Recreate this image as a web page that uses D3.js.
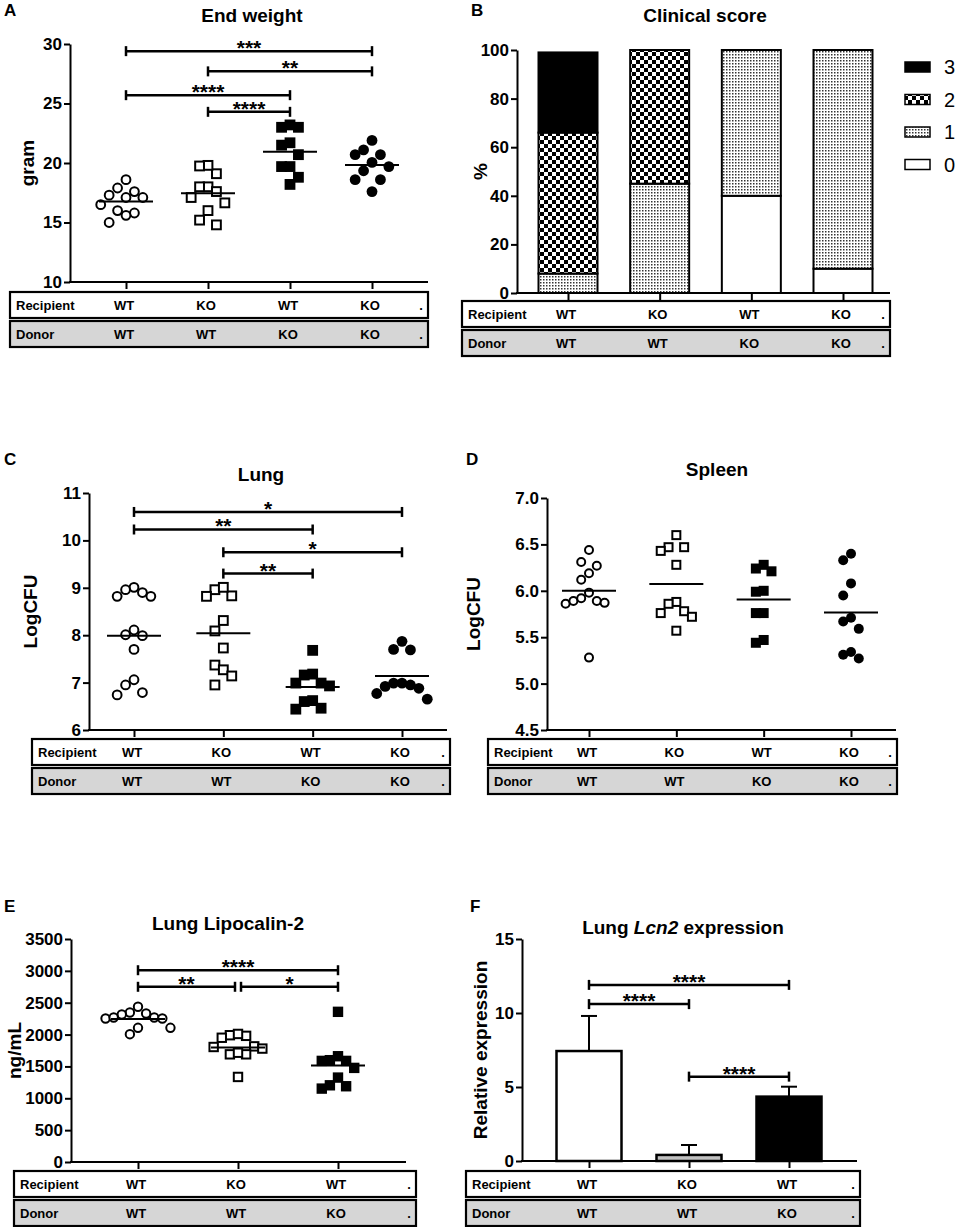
<!DOCTYPE html>
<html>
<head>
<meta charset="utf-8">
<title>Figure</title>
<script src="https://cdn.jsdelivr.net/npm/d3@7"></script>
<style>
  body { margin: 0; background: #fff; }
  svg text { font-family: 'Liberation Sans', Arial, sans-serif; }
</style>
</head>
<body>
<script>
// ---- data ----
const recipient4 = ['WT', 'KO', 'WT', 'KO'];
const donor4 = ['WT', 'WT', 'KO', 'KO'];
const recipient3 = ['WT', 'KO', 'WT'];
const donor3 = ['WT', 'WT', 'KO'];

// A: end weight (gram)
const weightWTWT = [17.9, 17.6, 18.6, 17.1, 17.3, 17.1, 16.5, 15.8, 16.0, 15.6, 15.0];
const weightKOWT = [19.1, 19.8, 19.75, 18.0, 18.0, 17.6, 17.1, 16.65, 16.0, 15.2, 14.8];
const weightWTKO = [23.0, 23.0, 23.2, 21.5, 21.7, 20.7, 19.7, 19.7, 18.8, 18.2];
const weightKOKO = [21.9, 21.1, 20.7, 20.7, 20.05, 19.7, 19.35, 18.6, 18.6, 17.6];
const weightTicks = [10, 15, 20, 25, 30];
const weightSig = [[0, 3, 29.4, '***'], [1, 3, 27.7, '**'], [0, 2, 25.7, '****'], [1, 2, 24.3, '****']];

// B: clinical score (% of mice with score 0,1,2,3)
const scoreLevels = ['0', '1', '2', '3'];
const scoreWTWT = [0, 8, 58, 33];
const scoreKOWT = [0, 45, 55, 0];
const scoreWTKO = [40, 60, 0, 0];
const scoreKOKO = [10, 90, 0, 0];
const scoreTicks = [0, 20, 40, 60, 80, 100];

// C: lung LogCFU
const lungWTWT = [9.01, 8.90, 8.82, 8.82, 8.96, 8.11, 7.99, 8.01, 7.70, 7.06, 6.95, 6.74, 6.79];
const lungKOWT = [8.96, 8.82, 8.83, 9.01, 8.31, 8.09, 7.73, 7.37, 7.27, 7.14, 6.95];
const lungWTKO = [7.68, 7.16, 7.18, 6.99, 6.99, 6.93, 6.60, 6.62, 6.44, 6.46];
const lungKOKO = [7.87, 7.69, 7.70, 6.99, 6.95, 6.99, 6.88, 6.92, 6.77, 6.65];
const lungTicks = [6, 7, 8, 9, 10, 11];
const lungSig = [[0, 3, 10.6, '*'], [0, 2, 10.23, '**'], [1, 3, 9.75, '*'], [1, 2, 9.3, '**']];

// D: spleen LogCFU
const spleenWTWT = [6.44, 6.27, 6.31, 6.19, 6.12, 5.98, 5.89, 5.87, 5.86, 5.89, 5.92, 5.28];
const spleenKOWT = [6.60, 6.47, 6.47, 6.43, 6.28, 5.88, 5.86, 5.78, 5.76, 5.72, 5.57];
const spleenWTKO = [6.24, 6.21, 6.28, 5.99, 6.00, 5.76, 5.76, 5.44, 5.47];
const spleenKOKO = [6.40, 6.33, 6.08, 5.95, 5.67, 5.71, 5.59, 5.34, 5.27, 5.31];
const spleenTicks = [4.5, 5.0, 5.5, 6.0, 6.5, 7.0];

// E: lung lipocalin-2 (ng/mL)
const lcn2WTWT = [2436, 2331, 2347, 2316, 2268, 2253, 2253, 2268, 2106, 2106, 2006];
const lcn2KOWT = [1990, 1950, 1980, 2010, 1815, 1780, 1805, 1690, 1690, 1715, 1335];
const lcn2WTKO = [2357, 1598, 1587, 1587, 1660, 1477, 1325, 1204, 1152, 1189];
const lcn2Ticks = [0, 500, 1000, 1500, 2000, 2500, 3000, 3500];
const lcn2Sig = [[0, 2, 3010, '****'], [0, 1, 2750, '**'], [1, 2, 2750, '*']];

// F: lung Lcn2 relative expression
const exprMean = [7.43, 0.41, 4.35];
const exprSD = [2.37, 0.67, 0.67];
const exprTicks = [0, 5, 10, 15];
const exprSig = [[0, 2, 11.9, '****'], [0, 1, 10.6, '****'], [1, 2, 5.7, '****']];

// ---- drawing ----
const svg = d3.select('body').append('svg')
  .attr('width', 957).attr('height', 1227)
  .style('background-color', '#fff');

const defs = svg.append('defs');
const checker = defs.append('pattern').attr('id', 'checker')
  .attr('patternUnits', 'userSpaceOnUse').attr('width', 8).attr('height', 8);
checker.append('rect').attr('width', 8).attr('height', 8).attr('fill', '#fff');
checker.append('rect').attr('width', 4).attr('height', 4).attr('fill', '#000');
checker.append('rect').attr('x', 4).attr('y', 4).attr('width', 4).attr('height', 4).attr('fill', '#000');
const stipple = defs.append('pattern').attr('id', 'stipple')
  .attr('patternUnits', 'userSpaceOnUse').attr('width', 3).attr('height', 3);
stipple.append('rect').attr('width', 3).attr('height', 3).attr('fill', '#fff');
stipple.append('rect').attr('width', 1.5).attr('height', 1.5).attr('fill', '#333');

const scoreFill = ['#fff', 'url(#stipple)', 'url(#checker)', '#000'];

function panelLetter(t, x, y) {
  svg.append('text').attr('x', x).attr('y', y).text(t)
    .attr('font-size', 17).attr('font-weight', 'bold');
}

function frame(p) {
  const g = svg.append('g');
  const y = d3.scaleLinear().domain([p.ticks[0], p.ticks[p.ticks.length - 1]]).range([p.bottom, p.top]);
  const x = d3.scalePoint().domain(d3.range(p.n)).range(p.xr);

  const ya = g.append('g').attr('transform', `translate(${p.left},0)`)
    .call(d3.axisLeft(y).tickValues(p.ticks).tickFormat(p.fmt || d3.format('d'))
      .tickSize(6).tickSizeOuter(0).tickPadding(2));
  ya.selectAll('path, line').attr('stroke', '#000').attr('stroke-width', 2);
  ya.selectAll('text').attr('font-size', 17).attr('font-weight', 'bold').attr('fill', '#000')
    .style('font-family', "'Liberation Sans', Arial, sans-serif");

  g.append('line').attr('x1', p.left - 1).attr('x2', p.right)
    .attr('y1', p.bottom).attr('y2', p.bottom).attr('stroke', '#000').attr('stroke-width', 2);
  const xa = g.append('g').attr('transform', `translate(0,${p.bottom})`)
    .call(d3.axisBottom(x).tickSize(7).tickSizeOuter(0).tickFormat(''));
  xa.select('.domain').remove();
  xa.selectAll('line').attr('stroke', '#000').attr('stroke-width', 2);

  g.append('text').attr('x', p.titleX).attr('y', p.titleY)
    .attr('text-anchor', 'middle').attr('font-size', 19).attr('font-weight', 'bold')
    .text(p.title);

  g.append('text')
    .attr('transform', `translate(${p.labelX},${(p.top + p.bottom) / 2}) rotate(-90)`)
    .attr('text-anchor', 'middle').attr('dy', '0.35em')
    .attr('font-size', 19).attr('font-weight', 'bold').text(p.label);

  // recipient / donor table
  const bw = p.boxR - p.boxL;
  [[p.recipient, 'Recipient', '#fff', 0], [p.donor, 'Donor', '#d6d6d6', 29]].forEach(([labels, name, fill, off]) => {
    const by = p.boxTop + off;
    g.append('rect').attr('x', p.boxL).attr('y', by).attr('width', bw).attr('height', 26)
      .attr('fill', fill).attr('stroke', '#000').attr('stroke-width', 2.2);
    g.append('text').attr('x', p.boxL + 6).attr('y', by + 13).attr('dy', '0.35em')
      .attr('font-size', 13).attr('font-weight', 'bold').text(name);
    g.selectAll(null).data(labels).enter().append('text')
      .attr('x', (d, i) => x(i) - 2).attr('y', by + 13).attr('dy', '0.35em')
      .attr('text-anchor', 'middle').attr('font-size', 13).attr('font-weight', 'bold')
      .text(d => d);
    g.append('text').attr('x', p.boxR - 7).attr('y', by + 13).attr('dy', '0.35em')
      .attr('text-anchor', 'middle').attr('font-size', 13).attr('font-weight', 'bold').text('.');
  });
  return { g, x, y };
}

function brackets(g, x, y, sig) {
  sig.forEach(([a, b, v, t]) => {
    const shared = e => sig.some(s => s[2] === v && (s[0] === e || s[1] === e) && !(s[0] === a && s[1] === b));
    const x1 = x(a) + (shared(a) ? 3 : 0);
    const x2 = x(b) - (shared(b) ? 3 : 0);
    const yy = y(v);
    g.append('line').attr('x1', x1).attr('x2', x2).attr('y1', yy).attr('y2', yy)
      .attr('stroke', '#000').attr('stroke-width', 2.5);
    [x1, x2].forEach(xx => g.append('line').attr('x1', xx).attr('x2', xx)
      .attr('y1', yy - 5).attr('y2', yy + 5).attr('stroke', '#000').attr('stroke-width', 2.5));
    g.append('text').attr('x', (x1 + x2) / 2).attr('y', yy + 4)
      .attr('text-anchor', 'middle').attr('font-size', 21).attr('font-weight', 'bold').text(t);
  });
}

// simple beeswarm: horizontal offsets so markers do not pile up
// (elliptical keep-out: markers may overlap sideways a little, but columns stay airy)
function swarm(values, y, diam) {
  const order = d3.range(values.length).sort((a, b) => values[b] - values[a]);
  const placed = [];
  const offs = [];
  const step = diam * 0.78;
  order.forEach(i => {
    const py = y(values[i]);
    for (let k = 0; k < 40; k++) {
      const c = k === 0 ? 0 : (k % 2 ? -1 : 1) * Math.ceil(k / 2) * step;
      const free = placed.every(p => {
        const dx = (p.x - c) / (0.76 * diam), dy = (p.y - py) / (1.6 * diam);
        return dx * dx + dy * dy >= 1;
      });
      if (free) { offs[i] = c; placed.push({ x: c, y: py }); break; }
    }
  });
  return offs;
}

const shapes = ['openCircle', 'openSquare', 'fillSquare', 'fillCircle'];

function scatter(g, x, y, groups, r) {
  groups.forEach((vals, gi) => {
    const offs = swarm(vals, y, r * 2);
    const shape = shapes[gi];
    const sel = g.append('g').selectAll(null).data(vals).enter();
    if (shape.endsWith('Circle')) {
      sel.append('circle')
        .attr('cx', (d, i) => x(gi) + offs[i]).attr('cy', d => y(d))
        .attr('r', shape === 'openCircle' ? r - 1 : r)
        .attr('fill', shape === 'openCircle' ? '#fff' : '#000')
        .attr('stroke', '#000').attr('stroke-width', shape === 'openCircle' ? 2 : 0);
    } else {
      const s = shape === 'openSquare' ? r * 2 - 2 : r * 2;
      sel.append('rect')
        .attr('x', (d, i) => x(gi) + offs[i] - s / 2).attr('y', d => y(d) - s / 2)
        .attr('width', s).attr('height', s)
        .attr('fill', shape === 'openSquare' ? '#fff' : '#000')
        .attr('stroke', '#000').attr('stroke-width', shape === 'openSquare' ? 2 : 0);
    }
    const m = d3.mean(vals);
    g.append('line').attr('x1', x(gi) - 27).attr('x2', x(gi) + 27)
      .attr('y1', y(m)).attr('y2', y(m)).attr('stroke', '#000').attr('stroke-width', 2);
  });
}

// ---- A ----
panelLetter('A', 4, 16);
{
  const { g, x, y } = frame({
    n: 4, ticks: weightTicks, left: 70, right: 428, top: 44, bottom: 282, xr: [126, 372],
    title: 'End weight', titleX: 252, titleY: 22, label: 'gram', labelX: 27,
    boxL: 10, boxR: 428, boxTop: 292, recipient: recipient4, donor: donor4
  });
  scatter(g, x, y, [weightWTWT, weightKOWT, weightWTKO, weightKOKO], 5.4);
  brackets(g, x, y, weightSig);
}

// ---- B ----
panelLetter('B', 471, 16);
{
  const { g, x, y } = frame({
    n: 4, ticks: scoreTicks, left: 517, right: 890, top: 50, bottom: 293, xr: [568, 843],
    title: 'Clinical score', titleX: 705, titleY: 22, label: '%', labelX: 480,
    boxL: 462, boxR: 890, boxTop: 301, recipient: recipient4, donor: donor4
  });
  const groups = [scoreWTWT, scoreKOWT, scoreWTKO, scoreKOKO];
  const bw = 59;
  groups.forEach((vals, gi) => {
    const stack = d3.cumsum(vals);
    vals.forEach((v, k) => {
      if (v <= 0) return;
      const y0 = stack[k] - v;
      g.append('rect').attr('x', x(gi) - bw / 2).attr('width', bw)
        .attr('y', y(stack[k])).attr('height', y(y0) - y(stack[k]))
        .attr('fill', scoreFill[k]).attr('stroke', '#000').attr('stroke-width', 2);
    });
  });
  // legend, highest score first
  const leg = g.append('g');
  scoreLevels.slice().reverse().forEach((lv, i) => {
    const k = scoreLevels.length - 1 - i;
    const cy = 67 + i * 32.5;
    leg.append('rect').attr('x', 905).attr('y', cy - 5).attr('width', 25).attr('height', 10)
      .attr('fill', scoreFill[k]).attr('stroke', '#000').attr('stroke-width', 1.5);
    leg.append('text').attr('x', 944).attr('y', cy).attr('dy', '0.36em')
      .attr('font-size', 20).text(lv);
  });
}

// ---- C ----
panelLetter('C', 4, 465);
{
  const { g, x, y } = frame({
    n: 4, ticks: lungTicks, left: 89, right: 447, top: 493, bottom: 730, xr: [134, 402],
    title: 'Lung', titleX: 261, titleY: 481, label: 'LogCFU', labelX: 30,
    boxL: 32, boxR: 450, boxTop: 739, recipient: recipient4, donor: donor4
  });
  scatter(g, x, y, [lungWTWT, lungKOWT, lungWTKO, lungKOKO], 5.4);
  brackets(g, x, y, lungSig);
}

// ---- D ----
panelLetter('D', 466, 465);
{
  const { g, x, y } = frame({
    n: 4, ticks: spleenTicks, left: 547, right: 896, top: 498, bottom: 730, xr: [589, 851],
    fmt: d3.format('.1f'),
    title: 'Spleen', titleX: 717, titleY: 476, label: 'LogCFU', labelX: 473,
    boxL: 488, boxR: 897, boxTop: 739, recipient: recipient4, donor: donor4
  });
  scatter(g, x, y, [spleenWTWT, spleenKOWT, spleenWTKO, spleenKOKO], 5);
}

// ---- E ----
panelLetter('E', 4, 912);
{
  const { g, x, y } = frame({
    n: 3, ticks: lcn2Ticks, left: 71, right: 406, top: 939, bottom: 1162, xr: [138, 338],
    title: 'Lung Lipocalin-2', titleX: 228, titleY: 930, label: 'ng/mL', labelX: 14,
    boxL: 14, boxR: 416, boxTop: 1171, recipient: recipient3, donor: donor3
  });
  scatter(g, x, y, [lcn2WTWT, lcn2KOWT, lcn2WTKO], 5.2);
  brackets(g, x, y, lcn2Sig);
}

// ---- F ----
panelLetter('F', 470, 912);
{
  const { g, x, y } = frame({
    n: 3, ticks: exprTicks, left: 522, right: 857, top: 939, bottom: 1161, xr: [589, 789],
    title: '', titleX: 683, titleY: 934, label: 'Relative expression', labelX: 480,
    boxL: 466, boxR: 860, boxTop: 1171, recipient: recipient3, donor: donor3
  });
  const t = g.append('text').attr('x', 683).attr('y', 934).attr('text-anchor', 'middle')
    .attr('font-size', 19).attr('font-weight', 'bold');
  t.append('tspan').text('Lung ');
  t.append('tspan').attr('font-style', 'italic').text('Lcn2');
  t.append('tspan').text(' expression');

  const barFill = ['#fff', '#c0c0c0', '#000'];
  const bw = 65;
  exprMean.forEach((m, i) => {
    const top = y(exprMean[i] + exprSD[i]);
    g.append('line').attr('x1', x(i)).attr('x2', x(i)).attr('y1', y(m)).attr('y2', top)
      .attr('stroke', '#000').attr('stroke-width', 2);
    g.append('line').attr('x1', x(i) - 8).attr('x2', x(i) + 8).attr('y1', top).attr('y2', top)
      .attr('stroke', '#000').attr('stroke-width', 2);
    g.append('rect').attr('x', x(i) - bw / 2).attr('width', bw)
      .attr('y', y(m)).attr('height', y(0) - y(m))
      .attr('fill', barFill[i]).attr('stroke', '#000').attr('stroke-width', 2.5);
  });
  brackets(g, x, y, exprSig);
}
</script>
</body>
</html>
